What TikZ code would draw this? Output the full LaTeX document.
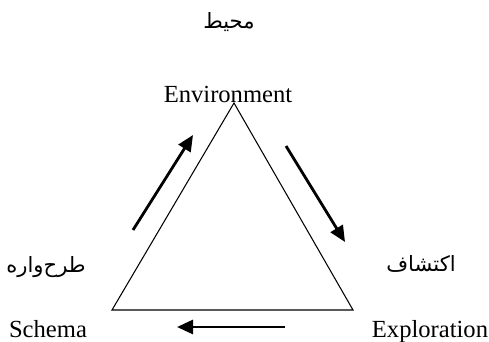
\documentclass[tikz,border=0pt]{standalone}
\usepackage{fontspec}
\setmainfont{Liberation Serif}
\newfontfamily\arabicfont[Script=Arabic]{DejaVu Sans}
\TeXXeTstate=1
\usetikzlibrary{arrows.meta}

\begin{document}
\begin{tikzpicture}[x=0.02cm,y=-0.02cm,
    lbl/.style={anchor=base,inner sep=0pt,font=\fontsize{14}{16}\selectfont},
    plbl/.style={anchor=base,inner sep=0pt,font=\arabicfont\fontsize{12}{14}\selectfont},
    flow/.style={-{Triangle[length=0.32cm,width=0.28cm]},line width=1.6pt}]
    \useasboundingbox (0,0) rectangle (489,341);
    % corners of the triangle
    \coordinate (top) at (234,103);
    \coordinate (left) at (112,310);
    \coordinate (right) at (353,310);
    \draw[line width=0.6pt] (top) -- (right) -- (left) -- cycle;

    \node[lbl] (env) at (228,102) {Environment};
    \node[lbl] (sch) at (48,337) {Schema};
    \node[lbl] (exp) at (430,337) {Exploration};

    \node[plbl] (envfa) at (229,29) {\beginR محیط\endR};
    \node[plbl] (schfa) at (46,272) {\beginR طرح‌واره\endR};
    \node[plbl] (expfa) at (421,271) {\beginR اکتشاف\endR};

    % direction of the cycle
    \coordinate (a1) at (133,230);
    \coordinate (b1) at (193,135);
    \coordinate (a2) at (286,146);
    \coordinate (b2) at (345,242);
    \coordinate (a3) at (285,327);
    \coordinate (b3) at (177,327);
    \draw[flow] (a1) -- (b1);
    \draw[flow] (a2) -- (b2);
    \draw[flow] (a3) -- (b3);
\end{tikzpicture}
\end{document}
